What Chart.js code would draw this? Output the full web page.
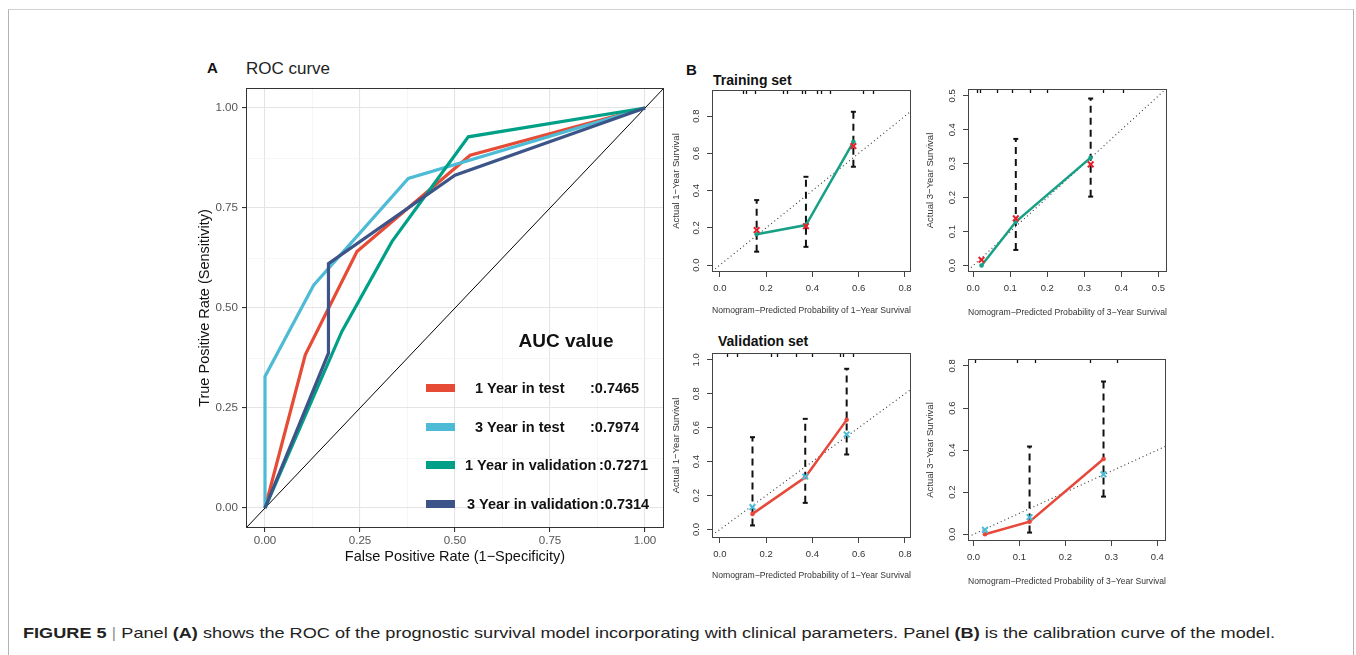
<!DOCTYPE html>
<html>
<head>
<meta charset="utf-8">
<title>Figure 5</title>
<script src="https://cdn.jsdelivr.net/npm/chart.js@4.4.0/dist/chart.umd.min.js"></script>
<style>
  html, body { margin: 0; padding: 0; background: #fff; }
  body { width: 1356px; height: 655px; position: relative; overflow: hidden; font-family: "Liberation Sans", Arial, sans-serif; }
  .frame { position: absolute; left: 8px; top: 9px; width: 1344px; height: 700px; border: 1px solid #b4b4b4; border-top-color: #d2d2d2; border-bottom: none; }
  canvas { position: absolute; }
  .lbl { position: absolute; line-height: 0; white-space: nowrap; color: #111; }
  .caption { position: absolute; left: 23px; top: 633px; line-height: 0; white-space: nowrap; font-size: 14.5px; color: #222; transform-origin: 0 0; }
  .caption .sep { color: #999; padding: 0 4px; }
</style>
</head>
<body>
<div class="frame"></div>

<div class="lbl" style="left:207px; top:68px; font-size:15px; font-weight:bold;">A</div>
<div class="lbl" style="left:246px; top:69px; font-size:17px; color:#222;">ROC curve</div>
<div class="lbl" style="left:686px; top:70px; font-size:15px; font-weight:bold;">B</div>
<div class="lbl" style="left:713px; top:80px; font-size:14px; font-weight:bold;">Training set</div>
<div class="lbl" style="left:718px; top:341px; font-size:14px; font-weight:bold;">Validation set</div>

<canvas id="roc"></canvas>
<canvas id="train1"></canvas>
<canvas id="train3"></canvas>
<canvas id="valid1"></canvas>
<canvas id="valid3"></canvas>

<div class="caption" id="caption"><b>FIGURE 5</b><span class="sep">|</span>Panel <b>(A)</b> shows the ROC of the prognostic survival model incorporating with clinical parameters. Panel <b>(B)</b> is the calibration curve of the model.</div>

<script>
// ---- Panel A: ROC curves ----
const rocLabels = ['1 Year in test', '3 Year in test', '1 Year in validation', '3 Year in validation'];
const rocAuc = ['0.7465', '0.7974', '0.7271', '0.7314'];
const rocColors = ['#E64B35', '#4DBBD5', '#00A087', '#3C5488'];

const roc1yTestFpr = [0, 0.106, 0.242, 0.54, 1];
const roc1yTestTpr = [0, 0.383, 0.641, 0.882, 1];
const roc3yTestFpr = [0, 0, 0.128, 0.377, 1];
const roc3yTestTpr = [0, 0.329, 0.557, 0.824, 1];
const roc1yValFpr = [0, 0.202, 0.334, 0.535, 1];
const roc1yValTpr = [0, 0.441, 0.666, 0.928, 1];
const roc3yValFpr = [0, 0.167, 0.167, 0.5, 1];
const roc3yValTpr = [0, 0.387, 0.611, 0.832, 1];

const rocTicks = [0, 0.25, 0.5, 0.75, 1];
const rocMinorTicks = [0.125, 0.375, 0.625, 0.875];
const rocLimits = [-0.05, 1.05];

// ---- Panel B: calibration curves ----
// training set, 1 year
const tr1Pred = [0.159, 0.372, 0.577];
const tr1Obs = [0.166, 0.215, 0.662];
const tr1Corr = [0.188, 0.209, 0.639];
const tr1Lo = [0.072, 0.098, 0.528];
const tr1Hi = [0.349, 0.474, 0.823];
const tr1Rug = [0.101, 0.115, 0.151, 0.274, 0.291, 0.353, 0.368, 0.418, 0.436, 0.476, 0.620, 0.663];
// training set, 3 year
const tr3Pred = [0.0225, 0.115, 0.317];
const tr3Obs = [0.0, 0.129, 0.318];
const tr3Corr = [0.017, 0.139, 0.298];
const tr3Lo = [null, 0.046, 0.203];
const tr3Hi = [null, 0.373, 0.492];
const tr3Rug = [0.009, 0.018, 0.063, 0.104, 0.153, 0.198, 0.351, 0.405];
// validation set, 1 year
const va1Pred = [0.141, 0.369, 0.548];
const va1Obs = [0.092, 0.308, 0.646];
const va1Corr = [0.132, 0.312, 0.560];
const va1Lo = [0.024, 0.157, 0.442];
const va1Hi = [0.544, 0.652, 0.947];
const va1Rug = [0.029, 0.072, 0.223, 0.245, 0.331, 0.396, 0.519, 0.533, 0.577];
// validation set, 3 year
const va3Pred = [0.025, 0.122, 0.283];
const va3Obs = [0.0, 0.060, 0.358];
const va3Corr = [0.021, 0.081, 0.285];
const va3Lo = [null, 0.008, 0.179];
const va3Hi = [null, 0.417, 0.726];
const va3Rug = [0.004, 0.094, 0.134, 0.254, 0.312];

const tick08 = [0, 0.2, 0.4, 0.6, 0.8];
const tick05 = [0, 0.1, 0.2, 0.3, 0.4, 0.5];
const tick04 = [0, 0.1, 0.2, 0.3, 0.4];
const tick10 = [0, 0.2, 0.4, 0.6, 0.8, 1.0];

const FONT = '"Liberation Sans", Arial, sans-serif';
Chart.defaults.font.family = FONT;

const pts = (xs, ys) => xs.map((x, i) => ({ x: x, y: ys[i] }));

// ROC panel
const ROC_BOX = { l: 246, t: 88, r: 664, b: 528 };
const ROC_CANVAS = { l: 190, t: 50, r: 680, b: 590 };

const rocDecor = {
  id: 'rocDecor',
  afterDatasetsDraw(chart) {
    const { ctx, chartArea: a } = chart;
    ctx.save();
    ctx.strokeStyle = '#333';
    ctx.lineWidth = 1;
    ctx.strokeRect(a.left + 0.5, a.top + 0.5, a.right - a.left - 1, a.bottom - a.top - 1);
    ctx.restore();
  },
  afterDraw(chart) {
    const ctx = chart.ctx;
    const ox = ROC_CANVAS.l, oy = ROC_CANVAS.t;
    ctx.save();
    ctx.fillStyle = '#111';
    ctx.textBaseline = 'middle';
    ctx.textAlign = 'center';
    ctx.font = 'bold 19px ' + FONT;
    ctx.fillText('AUC value', 566 - ox, 342 - oy);

    // legend rows (page coords)
    const rowY = [388, 427, 465, 504];
    const textX = [475, 475, 465, 467];
    const valX = [590, 590, 599, 600];
    ctx.textAlign = 'left';
    ctx.font = 'bold 14.5px ' + FONT;
    rocLabels.forEach((lab, i) => {
      ctx.fillStyle = rocColors[i];
      ctx.fillRect(426 - ox, rowY[i] - 4 - oy, 29, 8);
      ctx.fillStyle = '#111';
      ctx.fillText(lab, textX[i] - ox, rowY[i] + 1 - oy);
      ctx.fillText(':' + rocAuc[i], valX[i] - ox, rowY[i] + 1 - oy);
    });
    ctx.restore();
  }
};

const isMajor = v => rocTicks.includes(v);

function setupCanvas(el, c) {
  el.width = c.r - c.l;
  el.height = c.b - c.t;
  el.style.left = c.l + 'px';
  el.style.top = c.t + 'px';
  el.style.width = (c.r - c.l) + 'px';
  el.style.height = (c.b - c.t) + 'px';
}

const rocEl = document.getElementById('roc');
setupCanvas(rocEl, ROC_CANVAS);

const rocSeries = [
  { fpr: roc3yValFpr, tpr: roc3yValTpr, color: rocColors[3] },
  { fpr: roc1yValFpr, tpr: roc1yValTpr, color: rocColors[2] },
  { fpr: roc3yTestFpr, tpr: roc3yTestTpr, color: rocColors[1] },
  { fpr: roc1yTestFpr, tpr: roc1yTestTpr, color: rocColors[0] }
];

const rocGridOpts = {
  color: c => isMajor(c.tick.value) ? '#e4e4e4' : '#f2f2f2',
  lineWidth: c => isMajor(c.tick.value) ? 1.1 : 0.7,
  tickColor: c => isMajor(c.tick.value) ? '#333' : 'rgba(0,0,0,0)',
  tickLength: 4
};

new Chart(rocEl, {
  type: 'scatter',
  data: {
    datasets: rocSeries.map(s => ({
      data: pts(s.fpr, s.tpr),
      showLine: true,
      borderColor: s.color,
      borderWidth: 3.2,
      pointRadius: 0,
      tension: 0
    })).concat([{
      data: pts(rocLimits, rocLimits),
      showLine: true,
      borderColor: '#000',
      borderWidth: 1,
      pointRadius: 0
    }])
  },
  options: {
    responsive: false,
    animation: false,
    devicePixelRatio: 1,
    events: [],
    layout: { padding: { top: ROC_BOX.t - ROC_CANVAS.t, right: ROC_CANVAS.r - ROC_BOX.r, left: 0, bottom: 0 } },
    plugins: { legend: { display: false }, tooltip: { enabled: false } },
    scales: {
      x: {
        type: 'linear',
        min: rocLimits[0], max: rocLimits[1],
        afterBuildTicks: s => { s.ticks = rocTicks.concat(rocMinorTicks).sort((a, b) => a - b).map(v => ({ value: v })); },
        afterFit: s => { s.height = ROC_CANVAS.b - ROC_BOX.b; },
        grid: rocGridOpts,
        border: { display: false },
        ticks: { autoSkip: false, maxRotation: 0, padding: 2, color: '#555', font: { size: 11.6 },
                 callback: v => isMajor(v) ? v.toFixed(2) : '' },
        title: { display: true, text: 'False Positive Rate (1\u2212Specificity)', color: '#111',
                 font: { size: 14.5 }, padding: { top: 0, bottom: 24 } }
      },
      y: {
        type: 'linear',
        min: rocLimits[0], max: rocLimits[1],
        afterBuildTicks: s => { s.ticks = rocTicks.concat(rocMinorTicks).sort((a, b) => a - b).map(v => ({ value: v })); },
        afterFit: s => { s.width = ROC_BOX.l - ROC_CANVAS.l; },
        grid: rocGridOpts,
        border: { display: false },
        ticks: { autoSkip: false, padding: 4, color: '#555', font: { size: 11.6 },
                 callback: v => isMajor(v) ? v.toFixed(2) : '' },
        title: { display: true, text: 'True Positive Rate (Sensitivity)', color: '#111',
                 font: { size: 14.5 }, padding: { top: 6, bottom: 0 } }
      }
    }
  },
  plugins: [rocDecor]
});

// calibration panels
const calDecor = {
  id: 'calDecor',
  afterDraw(chart, args, opts) {
    const { ctx, chartArea: a, scales } = chart;
    ctx.save();
    ctx.strokeStyle = '#444';
    ctx.lineWidth = 1;
    ctx.strokeRect(a.left + 0.5, a.top + 0.5, a.right - a.left - 1, a.bottom - a.top - 1);

    // y tick labels, rotated like base R
    ctx.fillStyle = '#333';
    ctx.font = '9.5px ' + FONT;
    ctx.textAlign = 'center';
    ctx.textBaseline = 'middle';
    scales.y.ticks.forEach(t => {
      const py = scales.y.getPixelForValue(t.value);
      ctx.save();
      ctx.translate(a.left - 16, py);
      ctx.rotate(-Math.PI / 2);
      ctx.fillText(t.value.toFixed(1), 0, 0);
      ctx.restore();
    });

    // rug along the top
    ctx.strokeStyle = '#111';
    ctx.lineWidth = 1.3;
    opts.rug.forEach(v => {
      const px = Math.round(scales.x.getPixelForValue(v)) + 0.5;
      ctx.beginPath();
      ctx.moveTo(px, a.top + 1);
      ctx.lineTo(px, a.top + 4);
      ctx.stroke();
    });
    ctx.restore();
  }
};

function calChart(id, cfg) {
  const el = document.getElementById(id);
  setupCanvas(el, cfg.canvas);
  const ci = [];
  cfg.pred.forEach((x, i) => {
    if (cfg.lo[i] === null) return;
    ci.push({ x: x, y: cfg.lo[i] }, { x: x, y: cfg.hi[i] }, { x: x, y: null });
  });
  const gridOpts = { drawOnChartArea: false, drawTicks: true, tickLength: 5, tickColor: '#444', tickWidth: 1 };
  return new Chart(el, {
    type: 'scatter',
    data: {
      datasets: [
        { data: pts(cfg.pred, cfg.corr), showLine: false, pointStyle: 'crossRot', pointRadius: 4,
          pointBorderWidth: 2, pointBorderColor: cfg.markColor, pointBackgroundColor: cfg.markColor },
        { data: pts(cfg.pred, cfg.obs), showLine: true, borderColor: cfg.lineColor, borderWidth: 2.5,
          pointRadius: 2.3, pointBorderWidth: 0, pointBackgroundColor: cfg.lineColor },
        { data: ci, showLine: true, spanGaps: false, borderColor: '#111', borderWidth: 2, borderDash: [7, 5],
          pointStyle: 'line', pointRadius: 2.5, pointBorderWidth: 2, pointBorderColor: '#111' },
        { data: pts(cfg.xRange, cfg.xRange), showLine: true, borderColor: '#333', borderWidth: 1.1,
          borderDash: [1, 3], pointRadius: 0 }
      ]
    },
    options: {
      responsive: false,
      animation: false,
      devicePixelRatio: 1,
      events: [],
      layout: { padding: { top: cfg.box.t - cfg.canvas.t, right: cfg.canvas.r - cfg.box.r, left: 0, bottom: 0 } },
      plugins: { legend: { display: false }, tooltip: { enabled: false }, calDecor: { rug: cfg.rug } },
      scales: {
        x: {
          type: 'linear', min: cfg.xRange[0], max: cfg.xRange[1],
          afterBuildTicks: s => { s.ticks = cfg.xTicks.map(v => ({ value: v })); },
          afterFit: s => { s.height = cfg.canvas.b - cfg.box.b; },
          grid: gridOpts,
          border: { display: false },
          ticks: { autoSkip: false, maxRotation: 0, padding: 6, color: '#333', font: { size: 9.5 },
                   callback: v => v.toFixed(1) },
          title: { display: true, text: cfg.xTitle, color: '#333', font: { size: 8.7 }, padding: { top: 0, bottom: 0 } }
        },
        y: {
          type: 'linear', min: cfg.yRange[0], max: cfg.yRange[1],
          afterBuildTicks: s => { s.ticks = cfg.yTicks.map(v => ({ value: v })); },
          afterFit: s => { s.width = cfg.box.l - cfg.canvas.l; },
          grid: gridOpts,
          border: { display: false },
          ticks: { display: false },
          title: { display: true, text: cfg.yTitle, color: '#333', font: { size: 9.5 }, padding: { top: 0, bottom: 0 } }
        }
      }
    },
    plugins: [calDecor]
  });
}

const trainLine = '#17a086';
const trainMark = '#e8202a';
const validLine = '#e8483a';
const validMark = '#4dbbd5';

calChart('train1', {
  canvas: { l: 671, t: 80, r: 920, b: 316 }, box: { l: 712, t: 90, r: 911, b: 272 },
  xRange: [-0.034, 0.826], yRange: [-0.037, 0.94], xTicks: tick08, yTicks: tick08,
  pred: tr1Pred, obs: tr1Obs, corr: tr1Corr, lo: tr1Lo, hi: tr1Hi, rug: tr1Rug,
  lineColor: trainLine, markColor: trainMark,
  xTitle: 'Nomogram\u2212Predicted Probability of 1\u2212Year Survival', yTitle: 'Actual 1\u2212Year Survival'
});
calChart('train3', {
  canvas: { l: 925, t: 79, r: 1176, b: 318 }, box: { l: 968, t: 89, r: 1167, b: 272 },
  xRange: [-0.014, 0.523], yRange: [-0.019, 0.52], xTicks: tick05, yTicks: tick05,
  pred: tr3Pred, obs: tr3Obs, corr: tr3Corr, lo: tr3Lo, hi: tr3Hi, rug: tr3Rug,
  lineColor: trainLine, markColor: trainMark,
  xTitle: 'Nomogram\u2212Predicted Probability of 3\u2212Year Survival', yTitle: 'Actual 3\u2212Year Survival'
});
calChart('valid1', {
  canvas: { l: 671, t: 343, r: 920, b: 581 }, box: { l: 712, t: 353, r: 911, b: 538 },
  xRange: [-0.034, 0.826], yRange: [-0.05, 1.04], xTicks: tick08, yTicks: tick10,
  pred: va1Pred, obs: va1Obs, corr: va1Corr, lo: va1Lo, hi: va1Hi, rug: va1Rug,
  lineColor: validLine, markColor: validMark,
  xTitle: 'Nomogram\u2212Predicted Probability of 1\u2212Year Survival', yTitle: 'Actual 1\u2212Year Survival'
});
calChart('valid3', {
  canvas: { l: 925, t: 349, r: 1175, b: 587 }, box: { l: 968, t: 359, r: 1166, b: 541 },
  xRange: [-0.012, 0.419], yRange: [-0.032, 0.833], xTicks: tick04, yTicks: tick08,
  pred: va3Pred, obs: va3Obs, corr: va3Corr, lo: va3Lo, hi: va3Hi, rug: va3Rug,
  lineColor: validLine, markColor: validMark,
  xTitle: 'Nomogram\u2212Predicted Probability of 3\u2212Year Survival', yTitle: 'Actual 3\u2212Year Survival'
});

// stretch the caption to the width it has in the figure
const cap = document.getElementById('caption');
const capW = cap.getBoundingClientRect().width;
cap.style.transform = 'scaleX(' + (1252 / capW) + ')';
</script>
</body>
</html>
